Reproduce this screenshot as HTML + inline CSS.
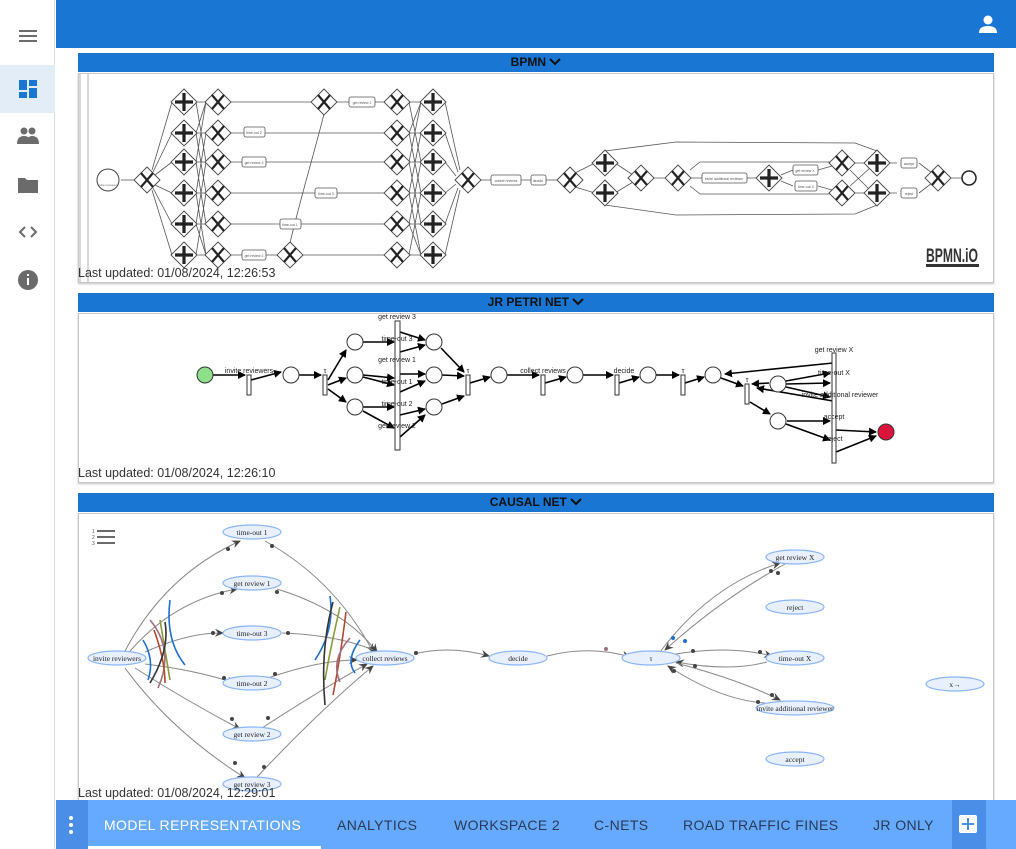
<!DOCTYPE html>
<html><head><meta charset="utf-8"><style>
*{margin:0;padding:0;box-sizing:border-box}
body{width:1016px;height:849px;overflow:hidden;background:#fff;font-family:"Liberation Sans",Arial,sans-serif;position:relative}
.abs{position:absolute}
.hdr{position:absolute;left:78px;width:916px;height:19px;background:#1976d2;color:#111;font-weight:bold;font-size:12px;text-align:center;line-height:19px}
.panel{position:absolute;left:78px;width:916px;background:#fff;border:1px solid #c8c8c8;box-shadow:0 1px 2px rgba(0,0,0,.25)}
.lu{position:absolute;left:78px;font-size:12.5px;color:#333}
.tab{position:absolute;top:817px;font-size:14px;letter-spacing:0.4px;color:#2a3a55}
</style></head><body>
<!-- sidebar -->
<div class="abs" style="left:0;top:0;width:55px;height:849px;background:#fff;border-right:1px solid #ddd"></div>
<div class="abs" style="left:0;top:65px;width:55px;height:48px;background:#e3edf8"></div>
<svg class="abs" style="left:0;top:0" width="56" height="300">
<g fill="#6b6b6b">
<rect x="19" y="30" width="18" height="2"/><rect x="19" y="35" width="18" height="2"/><rect x="19" y="40" width="18" height="2"/>
</g>
<g fill="#1976d2"><rect x="19" y="80" width="8" height="10"/><rect x="29" y="80" width="8" height="6"/><rect x="19" y="92" width="8" height="6"/><rect x="29" y="88" width="8" height="10"/></g>
<g fill="#6b6b6b">
<circle cx="24" cy="131" r="3.5"/><circle cx="32" cy="131" r="3.5"/><path d="M17 144 Q17 136 24 136 Q31 136 31 144Z"/><path d="M26 144 Q27 136 32 136 Q39 136 39 144Z"/>
<path d="M18 178 L25 178 L27 180 L38 180 L38 193 L18 193Z"/>
<path d="M25 227 L20 232 L25 237 M31 227 L36 232 L31 237" stroke="#6b6b6b" stroke-width="2" fill="none"/>
<circle cx="28" cy="280" r="10"/>
</g>
<rect x="27" y="278" width="2" height="7" fill="#fff"/><rect x="27" y="274" width="2" height="2" fill="#fff"/>
</svg>
<!-- top bar -->
<div class="abs" style="left:56px;top:0;width:960px;height:48px;background:#1976d2"></div>
<svg class="abs" style="left:976px;top:12px" width="24" height="24"><circle cx="12" cy="8" r="4.5" fill="#fff"/><path d="M3 21 Q3 14 12 14 Q21 14 21 21Z" fill="#fff"/></svg>

<!-- headers -->
<div class="hdr" style="top:53px">BPMN <svg width="12" height="8"><path d="M1 1 L6 6 L11 1" stroke="#111" stroke-width="2" fill="none"/></svg></div>
<div class="hdr" style="top:293px">JR PETRI NET <svg width="12" height="8"><path d="M1 1 L6 6 L11 1" stroke="#111" stroke-width="2" fill="none"/></svg></div>
<div class="hdr" style="top:493px">CAUSAL NET <svg width="12" height="8"><path d="M1 1 L6 6 L11 1" stroke="#111" stroke-width="2" fill="none"/></svg></div>

<div class="panel" style="top:73px;height:210px"></div>
<div class="panel" style="top:313px;height:170px"></div>
<div class="panel" style="top:513px;height:290px"></div>

<svg class="abs" style="left:0;top:0" width="1016" height="849">
<defs>
<g id="gx"><polygon points="0,-13 13,0 0,13 -13,0" fill="#fff" stroke="#444" stroke-width="0.9"/><path d="M-6,-7 L6,7 M6,-7 L-6,7" stroke="#222" stroke-width="2.2"/></g>
<g id="gp"><polygon points="0,-13 13,0 0,13 -13,0" fill="#fff" stroke="#444" stroke-width="0.9"/><path d="M0,-9 V9 M-9,0 H9" stroke="#222" stroke-width="3.2"/></g>
<marker id="ar" markerWidth="8" markerHeight="8" refX="7" refY="4" orient="auto" markerUnits="userSpaceOnUse"><path d="M0,0 L8,4 L0,8Z" fill="#000"/></marker>
<marker id="ca" markerWidth="9" markerHeight="8" refX="8" refY="4" orient="auto" markerUnits="userSpaceOnUse"><path d="M0,0 L9,4 L0,8 L3,4Z" fill="#444"/></marker>
</defs>

<!-- BPMN -->
<line x1="80" y1="74" x2="80" y2="282" stroke="#ccc" stroke-width="1.5"/>
<line x1="88" y1="74" x2="88" y2="282" stroke="#ccc" stroke-width="1.5"/>
<g stroke="#555" stroke-width="0.8" fill="none">
<line x1="121" y1="180" x2="134" y2="180"/>
<path d="M152,170 L172,102 M153,172 L172,133 M155,175 L172,162 M155,185 L172,193 M153,188 L172,224 M152,190 L172,255"/>
<path d="M196,102 L206,102 M196,102 L206,162 M196,133 L206,133 M196,133 L206,193 M196,133 L206,102 M196,162 L206,162 M196,162 L206,102 M196,162 L206,224 M196,193 L206,193 M196,193 L206,133 M196,193 L206,255 M196,224 L206,224 M196,224 L206,162 M196,224 L206,255 M196,255 L206,255 M196,255 L206,193"/>
<path d="M231,102 L385,102 M231,133 L385,133 M231,162 L385,162 M231,193 L385,193 M231,224 L385,224 M231,255 L385,255"/>
<path d="M290,243 C300,200 315,150 324,114"/>
<path d="M409,102 L421,102 M409,102 L421,162 M409,133 L421,133 M409,133 L421,193 M409,133 L421,102 M409,162 L421,162 M409,162 L421,102 M409,162 L421,224 M409,193 L421,193 M409,193 L421,133 M409,193 L421,255 M409,224 L421,224 M409,224 L421,162 M409,224 L421,255 M409,255 L421,255 M409,255 L421,193"/>
<path d="M445,102 L460,170 M445,133 L458,172 M445,162 L456,176 M445,193 L456,184 M445,224 L458,188 M445,255 L460,190"/>
<path d="M480,180 L557,180 M575,173 L595,163 M575,187 L595,193 M615,163 L633,175 M615,193 L633,182 M654,178 L665,178 M690,178 L757,178 M781,175 L793,170 M781,181 L793,186 M818,170 L832,166 M818,186 L832,190 M852,163 L865,163 M852,193 L865,193 M850,170 L870,190 M850,186 L870,168 M889,163 L897,163 M889,193 L897,193 M919,163 L932,173 M919,193 L932,183 M950,178 L962,178"/>
<path d="M605,151 L676,142 L855,143 L877,151 M605,205 L676,215 L855,214 L877,205"/>
<path d="M830,162 L700,162 L690,170 M830,194 L700,194 L690,186"/>
</g>
<circle cx="108" cy="180" r="11" fill="#fff" stroke="#444"/>
<text x="108" y="186" font-size="3" text-anchor="middle" fill="#666">invite reviewers</text>
<use href="#gx" x="147" y="180"/>
<g><use href="#gp" x="184" y="102"/><use href="#gp" x="184" y="133"/><use href="#gp" x="184" y="162"/><use href="#gp" x="184" y="193"/><use href="#gp" x="184" y="224"/><use href="#gp" x="184" y="255"/></g>
<g><use href="#gx" x="218" y="102"/><use href="#gx" x="218" y="133"/><use href="#gx" x="218" y="162"/><use href="#gx" x="218" y="193"/><use href="#gx" x="218" y="224"/><use href="#gx" x="218" y="255"/></g>
<g><use href="#gx" x="397" y="102"/><use href="#gx" x="397" y="133"/><use href="#gx" x="397" y="162"/><use href="#gx" x="397" y="193"/><use href="#gx" x="397" y="224"/><use href="#gx" x="397" y="255"/></g>
<g><use href="#gp" x="433" y="102"/><use href="#gp" x="433" y="133"/><use href="#gp" x="433" y="162"/><use href="#gp" x="433" y="193"/><use href="#gp" x="433" y="224"/><use href="#gp" x="433" y="255"/></g>
<use href="#gx" x="324" y="102"/><use href="#gx" x="290" y="255"/><use href="#gx" x="468" y="180"/>
<use href="#gx" x="570" y="180"/><use href="#gp" x="605" y="163"/><use href="#gp" x="605" y="193"/>
<use href="#gx" x="641" y="178"/><use href="#gx" x="678" y="178"/><use href="#gp" x="769" y="178"/>
<use href="#gx" x="842" y="163"/><use href="#gx" x="842" y="193"/><use href="#gp" x="877" y="163"/><use href="#gp" x="877" y="193"/>
<use href="#gx" x="938" y="178"/>
<circle cx="969" cy="178" r="7" fill="#fff" stroke="#222" stroke-width="1.5"/>
<g fill="#fff" stroke="#555" stroke-width="0.8" font-size="3.5">
<rect x="349" y="97" width="26" height="10" rx="2"/><rect x="244" y="127" width="21" height="10" rx="2"/><rect x="242" y="157" width="24" height="10" rx="2"/><rect x="315" y="188" width="22" height="10" rx="2"/><rect x="280" y="219" width="21" height="10" rx="2"/><rect x="242" y="250" width="24" height="10" rx="2"/>
<rect x="491" y="175" width="30" height="10" rx="2"/><rect x="531" y="175" width="15" height="10" rx="2"/><rect x="702" y="173" width="45" height="10" rx="2"/><rect x="793" y="165" width="25" height="10" rx="2"/><rect x="795" y="181" width="22" height="10" rx="2"/><rect x="901" y="158" width="16" height="10" rx="2"/><rect x="901" y="188" width="16" height="10" rx="2"/>
</g>
<g font-size="3.5" fill="#555" text-anchor="middle">
<text x="362" y="104">get review 1</text><text x="254" y="134">time-out 2</text><text x="254" y="164">get review 3</text><text x="326" y="195">time-out 3</text><text x="290" y="226">time-out 1</text><text x="254" y="257">get review 2</text>
<text x="506" y="182">collect reviews</text><text x="538" y="182">decide</text><text x="724" y="180">invite additional reviewer</text><text x="805" y="172">get review X</text><text x="806" y="188">time-out X</text><text x="909" y="165">accept</text><text x="909" y="195">reject</text>
</g>
<text x="952" y="262" font-size="19" font-weight="bold" fill="#333" text-anchor="middle" textLength="52" lengthAdjust="spacingAndGlyphs">BPMN.iO</text>
<rect x="926" y="264" width="53" height="3" fill="#333"/>

<!-- Petri net -->
<g stroke="#000" stroke-width="1.6" fill="none" marker-end="url(#ar)">
<line x1="213" y1="375" x2="245" y2="375"/><line x1="251" y1="380" x2="281" y2="372"/><line x1="299" y1="375" x2="321" y2="375"/>
<line x1="328" y1="380" x2="346" y2="350"/><line x1="328" y1="385" x2="346" y2="378"/><line x1="328" y1="389" x2="346" y2="402"/>
<line x1="363" y1="342" x2="394" y2="342"/><line x1="363" y1="375" x2="394" y2="378"/><line x1="363" y1="377" x2="394" y2="385"/><line x1="363" y1="407" x2="394" y2="407"/><line x1="363" y1="411" x2="394" y2="428"/>
<line x1="400" y1="332" x2="425" y2="340"/><line x1="400" y1="352" x2="425" y2="345"/><line x1="400" y1="374" x2="425" y2="374"/><line x1="400" y1="392" x2="425" y2="381"/><line x1="400" y1="415" x2="425" y2="409"/><line x1="400" y1="437" x2="425" y2="415"/>
<line x1="441" y1="348" x2="464" y2="372"/><line x1="442" y1="375" x2="464" y2="376"/><line x1="442" y1="404" x2="464" y2="396"/>
<line x1="470" y1="383" x2="490" y2="377"/><line x1="507" y1="375" x2="539" y2="375"/><line x1="545" y1="383" x2="566" y2="377"/><line x1="583" y1="375" x2="613" y2="375"/><line x1="619" y1="383" x2="639" y2="377"/><line x1="656" y1="375" x2="679" y2="375"/><line x1="685" y1="383" x2="704" y2="377"/>
<line x1="833" y1="363" x2="725" y2="374"/><line x1="721" y1="378" x2="743" y2="386"/><line x1="769" y1="383" x2="752" y2="384"/><line x1="833" y1="401" x2="757" y2="388"/>
<line x1="786" y1="381" x2="830" y2="373"/><line x1="786" y1="384" x2="830" y2="383"/><line x1="786" y1="387" x2="830" y2="397"/>
<line x1="750" y1="402" x2="770" y2="414"/><line x1="787" y1="421" x2="830" y2="421"/><line x1="786" y1="424" x2="830" y2="440"/>
<line x1="836" y1="430" x2="876" y2="432"/><line x1="836" y1="452" x2="876" y2="436"/>
</g>
<circle cx="205" cy="375" r="8" fill="#8fe08a" stroke="#333"/>
<circle cx="886" cy="432" r="8" fill="#dc143c" stroke="#333"/>
<g fill="#fff" stroke="#333" stroke-width="1">
<circle cx="291" cy="375" r="8"/><circle cx="355" cy="342" r="8"/><circle cx="355" cy="375" r="8"/><circle cx="355" cy="407" r="8"/><circle cx="434" cy="342" r="8"/><circle cx="434" cy="375" r="8"/><circle cx="434" cy="407" r="8"/><circle cx="499" cy="375" r="8"/><circle cx="575" cy="375" r="8"/><circle cx="648" cy="375" r="8"/><circle cx="713" cy="375" r="8"/><circle cx="778" cy="384" r="8"/><circle cx="778" cy="421" r="8"/>
<rect x="247" y="375" width="4" height="20"/><rect x="323" y="375" width="4" height="20"/><rect x="395" y="321" width="5" height="129"/><rect x="466" y="375" width="4" height="20"/><rect x="541" y="375" width="4" height="20"/><rect x="615" y="375" width="4" height="20"/><rect x="681" y="375" width="4" height="20"/><rect x="745" y="384" width="4" height="20"/><rect x="832" y="353" width="4" height="110"/>
</g>
<g font-size="7" fill="#222" text-anchor="middle">
<text x="249" y="373">invite reviewers</text><text x="325" y="373">τ</text><text x="397" y="319">get review 3</text><text x="397" y="341">time-out 3</text><text x="397" y="362">get review 1</text><text x="397" y="384">time-out 1</text><text x="397" y="406">time-out 2</text><text x="397" y="428">get review 2</text><text x="468" y="373">τ</text><text x="543" y="373">collect reviews</text><text x="624" y="373">decide</text><text x="683" y="373">τ</text><text x="747" y="382">τ</text>
<text x="834" y="352">get review X</text><text x="834" y="375">time-out X</text><text x="840" y="397">invite additional reviewer</text><text x="834" y="419">accept</text><text x="834" y="441">reject</text>
</g>

<!-- Causal net -->
<g fill="#6b6b6b"><rect x="97" y="530" width="18" height="2"/><rect x="97" y="536" width="18" height="2"/><rect x="97" y="542" width="18" height="2"/></g>
<text x="92" y="533" font-size="5" fill="#555">1</text><text x="92" y="539" font-size="5" fill="#555">2</text><text x="92" y="545" font-size="5" fill="#555">3</text>
<g stroke="#888" stroke-width="1" fill="none" marker-end="url(#ca)">
<path d="M125,651 Q165,575 240,541"/><path d="M130,651 Q175,600 237,589"/><path d="M145,652 Q190,632 223,633"/><path d="M145,664 Q195,670 235,683"/><path d="M135,668 Q185,700 240,729"/><path d="M125,668 Q170,730 245,778"/>
<path d="M265,541 Q335,580 373,652"/><path d="M277,589 Q345,610 377,652"/><path d="M282,633 Q340,635 378,652"/><path d="M268,678 Q320,660 357,660"/><path d="M262,728 Q320,690 367,664"/><path d="M257,777 Q320,710 373,666"/>
<path d="M414,654 Q450,645 489,656"/><path d="M547,656 Q590,645 630,657"/>
<path d="M660,652 Q710,585 780,563"/><path d="M785,564 Q720,600 665,650"/>
<path d="M676,654 Q730,645 772,656"/><path d="M767,662 Q730,672 676,662"/><path d="M676,663 Q740,680 780,700"/><path d="M765,703 Q720,700 668,666"/>
</g>
<g fill="none" stroke-width="1.6">
<path d="M170,600 Q165,640 185,665" stroke="#1e6fd0"/><path d="M160,620 Q165,650 170,680" stroke="#8a9a3a"/><path d="M150,620 Q175,650 158,688" stroke="#a07080"/><path d="M154,630 Q165,660 165,683" stroke="#b04a30"/><path d="M143,640 Q155,660 148,680" stroke="#1e6fd0"/><path d="M165,622 Q170,650 150,683" stroke="#333"/>
<path d="M330,596 Q335,630 315,660" stroke="#1e6fd0"/><path d="M340,607 Q330,650 325,680" stroke="#8a9a3a"/><path d="M346,612 Q340,660 333,695" stroke="#b04a30"/><path d="M333,602 Q320,650 325,705" stroke="#333"/><path d="M350,638 Q330,660 340,682" stroke="#a07080"/><path d="M360,640 Q345,660 355,673" stroke="#1e6fd0"/>
</g>
<g fill="#444"><circle cx="228" cy="549" r="2"/><circle cx="272" cy="546" r="2"/><circle cx="222" cy="593" r="2"/><circle cx="277" cy="592" r="2"/><circle cx="213" cy="633" r="2"/><circle cx="288" cy="633" r="2"/><circle cx="224" cy="678" r="2"/><circle cx="275" cy="674" r="2"/><circle cx="232" cy="719" r="2"/><circle cx="268" cy="718" r="2"/><circle cx="235" cy="763" r="2"/><circle cx="264" cy="767" r="2"/><circle cx="416" cy="653" r="2"/><circle cx="771" cy="571" r="2"/><circle cx="778" cy="573" r="2"/><circle cx="693" cy="651" r="2"/><circle cx="760" cy="652" r="2"/><circle cx="695" cy="666" r="2"/><circle cx="772" cy="695" r="2"/><circle cx="758" cy="702" r="2"/><circle cx="674" cy="671" r="2"/></g>
<circle cx="606" cy="649" r="2" fill="#a07080"/><circle cx="673" cy="638" r="2" fill="#1e6fd0"/><circle cx="685" cy="641" r="2" fill="#1e6fd0"/>
<g fill="#e8f0fe" stroke="#8ab4f8" stroke-width="1.2">
<ellipse cx="252" cy="532" rx="29" ry="7"/><ellipse cx="252" cy="583" rx="29" ry="7"/><ellipse cx="252" cy="633" rx="29" ry="7"/><ellipse cx="252" cy="683" rx="29" ry="7"/><ellipse cx="252" cy="734" rx="29" ry="7"/><ellipse cx="252" cy="784" rx="29" ry="7"/>
<ellipse cx="117" cy="658" rx="29" ry="7"/><ellipse cx="385" cy="658" rx="29" ry="7"/><ellipse cx="518" cy="658" rx="29" ry="7"/><ellipse cx="651" cy="658" rx="29" ry="7"/>
<ellipse cx="795" cy="557" rx="29" ry="7"/><ellipse cx="795" cy="607" rx="29" ry="7"/><ellipse cx="795" cy="658" rx="29" ry="7"/><ellipse cx="795" cy="708" rx="39" ry="7"/><ellipse cx="795" cy="759" rx="29" ry="7"/><ellipse cx="955" cy="684" rx="29" ry="7"/>
</g>
<g font-family="Liberation Serif,serif" font-size="7.5" fill="#222" text-anchor="middle">
<text x="252" y="535">time-out 1</text><text x="252" y="586">get review 1</text><text x="252" y="636">time-out 3</text><text x="252" y="686">time-out 2</text><text x="252" y="737">get review 2</text><text x="252" y="787">get review 3</text>
<text x="117" y="661">invite reviewers</text><text x="385" y="661">collect reviews</text><text x="518" y="661">decide</text><text x="651" y="661">τ</text>
<text x="795" y="560">get review X</text><text x="795" y="610">reject</text><text x="795" y="661">time-out X</text><text x="795" y="711">invite additional reviewer</text><text x="795" y="762">accept</text><text x="955" y="687">x→</text>
</g>
</svg>

<div class="lu" style="top:266px">Last updated: 01/08/2024, 12:26:53</div>
<div class="lu" style="top:466px">Last updated: 01/08/2024, 12:26:10</div>
<div class="lu" style="top:786px">Last updated: 01/08/2024, 12:29:01</div>

<!-- bottom tabs -->
<div class="abs" style="left:56px;top:800px;width:960px;height:49px;background:#66aaff"></div>
<div class="abs" style="left:56px;top:800px;width:32px;height:49px;background:#4a8ee8"></div>
<div class="abs" style="left:952px;top:800px;width:34px;height:49px;background:#4a8ee8"></div>
<svg class="abs" style="left:66px;top:814px" width="10" height="22"><circle cx="5" cy="4" r="2" fill="#fff"/><circle cx="5" cy="11" r="2" fill="#fff"/><circle cx="5" cy="18" r="2" fill="#fff"/></svg>
<div class="abs" style="left:959px;top:815px;width:18px;height:18px;background:#fff;border-radius:2px"></div>
<div class="abs" style="left:962px;top:823px;width:12px;height:2px;background:#4a8ee8"></div>
<div class="abs" style="left:967px;top:818px;width:2px;height:12px;background:#4a8ee8"></div>
<div class="abs" style="left:88px;top:846px;width:233px;height:3px;background:#fff"></div>
<div class="tab" style="left:104px;color:#fff">MODEL REPRESENTATIONS</div>
<div class="tab" style="left:337px">ANALYTICS</div>
<div class="tab" style="left:454px">WORKSPACE 2</div>
<div class="tab" style="left:594px">C-NETS</div>
<div class="tab" style="left:683px">ROAD TRAFFIC FINES</div>
<div class="tab" style="left:873px">JR ONLY</div>
</body></html>
